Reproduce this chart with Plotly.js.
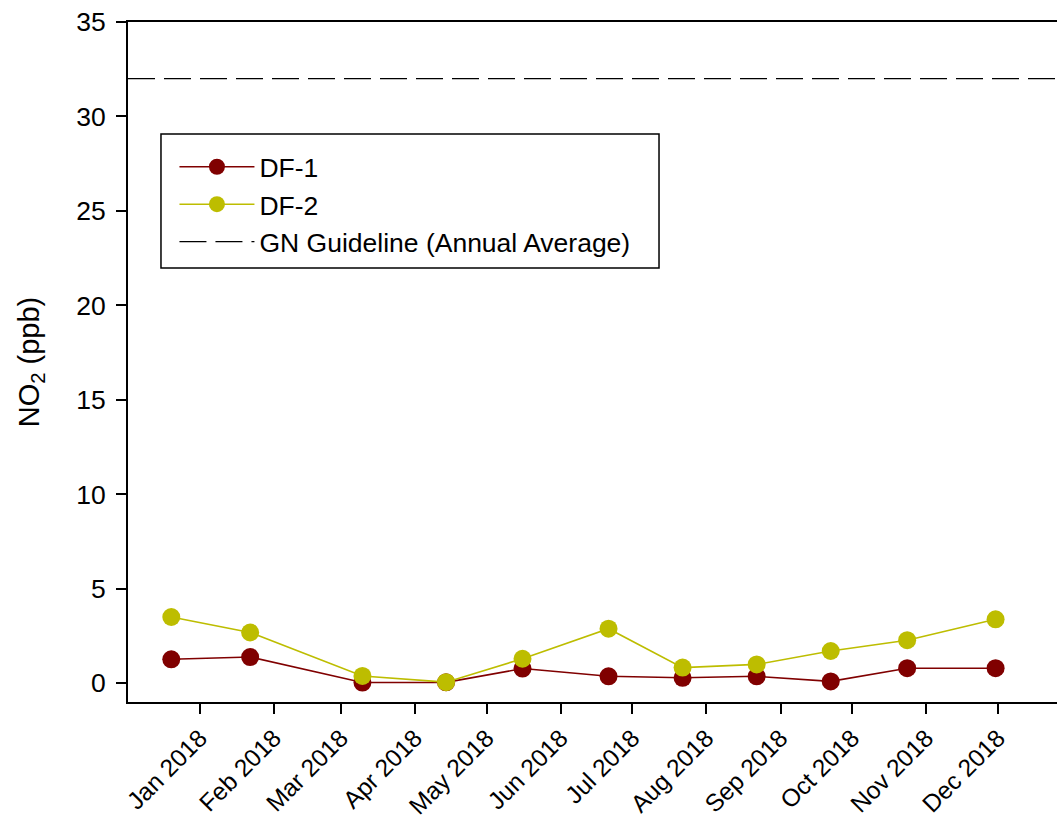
<!DOCTYPE html>
<html>
<head>
<meta charset="utf-8">
<script src="https://cdn.plot.ly/plotly-3.0.1.min.js"></script>
<style>html,body{margin:0;padding:0;background:#fff;}#chart{width:1057px;height:823px;}</style>
</head>
<body>
<div id="chart"></div>
<script>
// Sampling dates
const sampleDates = ['2017-12-20','2018-01-22','2018-03-10','2018-04-14','2018-05-16','2018-06-21','2018-07-22','2018-08-22','2018-09-22','2018-10-24','2018-11-30'];
const df1 = [1.26, 1.38, 0.03, 0.04, 0.77, 0.36, 0.28, 0.36, 0.09, 0.79, 0.79];
const df2 = [3.50, 2.68, 0.38, 0.05, 1.29, 2.88, 0.82, 0.99, 1.70, 2.27, 3.38];
const guideline = 32;
const tickDates = ['2018-01-01','2018-02-01','2018-03-01','2018-04-01','2018-05-01','2018-06-01','2018-07-01','2018-08-01','2018-09-01','2018-10-01','2018-11-01','2018-12-01'];
const tickLabels = ['Jan 2018','Feb 2018','Mar 2018','Apr 2018','May 2018','Jun 2018','Jul 2018','Aug 2018','Sep 2018','Oct 2018','Nov 2018','Dec 2018'];
const seriesNames = ['DF-1','DF-2','GN Guideline (Annual Average)'];
const xRange = ['2017-12-01 21:00','2018-12-25 17:00'];

const FONT = 'Arial, "Liberation Sans", sans-serif';

const traces = [
  {x: sampleDates, y: df1, name: seriesNames[0], mode: 'lines+markers',
   line: {color: '#800000', width: 1.6}, marker: {color: '#800000', size: 18}},
  {x: sampleDates, y: df2, name: seriesNames[1], mode: 'lines+markers',
   line: {color: '#BDBD00', width: 1.6}, marker: {color: '#BDBD00', size: 18}},
  {x: xRange, y: [guideline, guideline], name: seriesNames[2], mode: 'lines',
   line: {color: '#000', width: 1.3, dash: '27px,9px'}}
];

const layout = {
  width: 1057, height: 823,
  margin: {l: 128, r: 0, t: 22, b: 121},
  paper_bgcolor: '#fff', plot_bgcolor: '#fff',
  font: {family: FONT, size: 26.5, color: '#000'},
  showlegend: true,
  legend: {x: 0.05, y: 0.822, xanchor: 'left', yanchor: 'top', bgcolor: 'rgba(0,0,0,0)',
           borderwidth: 0, font: {family: FONT, size: 26.5}, itemwidth: 75},
  xaxis: {type: 'date', range: xRange, tickmode: 'array', tickvals: tickDates, ticktext: tickLabels,
          tickangle: -45, ticks: 'outside', ticklen: 10, tickwidth: 2, tickcolor: '#000',
          showline: true, linecolor: '#000', linewidth: 2, mirror: true, showgrid: false, zeroline: false,
          tickfont: {family: FONT, size: 24.5}},
  yaxis: {range: [-1, 35], tickvals: [0,5,10,15,20,25,30,35], ticks: 'outside', ticklen: 10, tickwidth: 2,
          tickcolor: '#000', showline: true, linecolor: '#000', linewidth: 2, showgrid: false, zeroline: false,
          ticklabelstandoff: 5, tickfont: {family: FONT, size: 26.5},
          title: {text: 'NO<sub>2</sub> (ppb)', font: {family: FONT, size: 29}, standoff: 28}},
  shapes: [{type: 'rect', xref: 'paper', yref: 'paper', x0: 0.0355, x1: 0.5716, y0: 0.6382, y1: 0.8353,
            line: {color: '#000', width: 1.5}, fillcolor: 'rgba(0,0,0,0)'}]
};

Plotly.newPlot('chart', traces, layout, {displayModeBar: false, staticPlot: true});
</script>
</body>
</html>
